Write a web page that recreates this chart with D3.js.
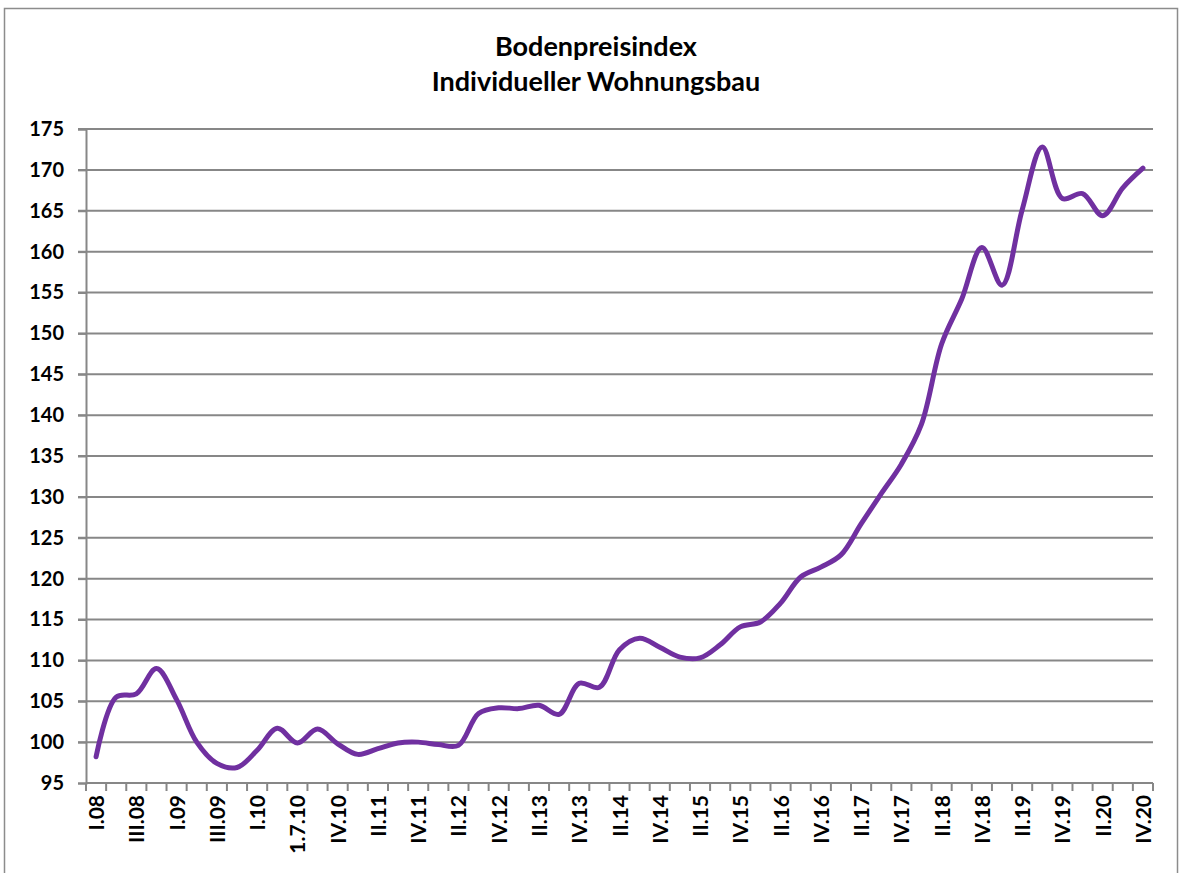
<!DOCTYPE html>
<html>
<head>
<meta charset="utf-8">
<script src="https://cdn.jsdelivr.net/npm/d3@7"></script>
<style>
  body { margin: 0; background: #fff; }
  svg { display: block; }
</style>
</head>
<body>
<svg id="chart"></svg>
<script>
// quarters, I.08 .. IV.20 (2010 has an extra 1.7.10 point)
var quarters = ["I.08","II.08","III.08","IV.08","I.09","II.09","III.09","IV.09",
  "I.10","II.10","1.7.10","III.10","IV.10",
  "I.11","II.11","III.11","IV.11","I.12","II.12","III.12","IV.12",
  "I.13","II.13","III.13","IV.13","I.14","II.14","III.14","IV.14",
  "I.15","II.15","III.15","IV.15","I.16","II.16","III.16","IV.16",
  "I.17","II.17","III.17","IV.17","I.18","II.18","III.18","IV.18",
  "I.19","II.19","III.19","IV.19","I.20","II.20","III.20","IV.20"];
var index = [98.2,105.5,105.9,109.0,105.2,100.0,97.4,96.9,
  99.0,101.7,99.9,101.6,99.8,
  98.5,99.2,99.9,100.0,99.7,99.6,103.5,104.2,
  104.1,104.5,103.4,107.2,106.7,111.3,112.7,111.6,
  110.4,110.3,111.9,114.1,114.7,117.0,120.2,121.4,
  122.9,126.7,130.4,134.0,138.9,148.7,154.2,160.5,
  155.9,165.1,172.8,166.5,167.1,164.4,167.8,170.2];
var yTicks = d3.range(95, 176, 5);
var titleLines = ["Bodenpreisindex", "Individueller Wohnungsbau"];

var W = 1181, H = 873;
var m = {left: 86, right: 1153, top: 129, bottom: 783};
var gray = "#878787";
var font = "Lato, 'Open Sans', sans-serif";

var svg = d3.select("#chart").attr("width", W).attr("height", H);

svg.append("rect")
    .attr("x", 4.5).attr("y", 8.5)
    .attr("width", 1173).attr("height", 880)
    .attr("fill", "#fff")
    .attr("stroke", "#8c8c8c").attr("stroke-width", 1.5);

svg.selectAll(".title").data(titleLines).enter()
    .append("text")
    .attr("x", 596)
    .attr("y", function(d, i) { return 56 + i * 35; })
    .attr("text-anchor", "middle")
    .style("font-family", font)
    .style("font-weight", "bold")
    .style("font-size", "27px")
    .attr("fill", "#000")
    .text(function(d) { return d; });

var x = d3.scaleBand().domain(quarters).range([m.left, m.right]);
var y = d3.scaleLinear().domain([95, 175]).range([m.bottom, m.top]);

// gridlines
svg.append("g").selectAll("line").data(yTicks.slice(1)).enter()
    .append("line")
    .attr("x1", m.left - 8).attr("x2", m.right)
    .attr("y1", function(d) { return y(d); })
    .attr("y2", function(d) { return y(d); })
    .attr("stroke", gray).attr("stroke-width", 2);

// y axis
var yAxis = svg.append("g")
    .attr("transform", "translate(" + m.left + ",0)")
    .call(d3.axisLeft(y).tickValues(yTicks).tickSize(8).tickPadding(14));
yAxis.select(".domain").attr("stroke", gray).attr("stroke-width", 2);
yAxis.selectAll(".tick line").attr("stroke", gray).attr("stroke-width", 2);
yAxis.selectAll("text")
    .style("font-family", font)
    .style("font-weight", "bold")
    .style("font-size", "20px")
    .attr("fill", "#000");

// x axis: ticks between categories, labels every second quarter
var xg = svg.append("g");
xg.append("line")
    .attr("x1", m.left).attr("x2", m.right)
    .attr("y1", m.bottom).attr("y2", m.bottom)
    .attr("stroke", gray).attr("stroke-width", 2);
var bounds = quarters.map(function(q) { return x(q); }).concat([m.right]);
xg.selectAll(".tk").data(bounds).enter()
    .append("line")
    .attr("x1", function(d) { return d; }).attr("x2", function(d) { return d; })
    .attr("y1", m.bottom).attr("y2", m.bottom + 8)
    .attr("stroke", gray).attr("stroke-width", 2);
xg.selectAll(".lbl").data(quarters.filter(function(q, i) { return i % 2 === 0; })).enter()
    .append("text")
    .attr("transform", function(d) {
        return "translate(" + (x(d) + x.bandwidth() / 2 + 8) + "," + (m.bottom + 12) + ") rotate(-90)";
    })
    .attr("text-anchor", "end")
    .style("font-family", font)
    .style("font-weight", "bold")
    .style("font-size", "21px")
    .attr("fill", "#000")
    .text(function(d) { return d; });

// the index line
var line = d3.line()
    .x(function(d, i) { return x(quarters[i]) + x.bandwidth() / 2; })
    .y(function(d) { return y(d); })
    .curve(d3.curveCatmullRom.alpha(0.5));

svg.append("path")
    .datum(index)
    .attr("d", line)
    .attr("fill", "none")
    .attr("stroke", "#7030a0")
    .attr("stroke-width", 5)
    .attr("stroke-linejoin", "round")
    .attr("stroke-linecap", "round");
</script>
</body>
</html>
